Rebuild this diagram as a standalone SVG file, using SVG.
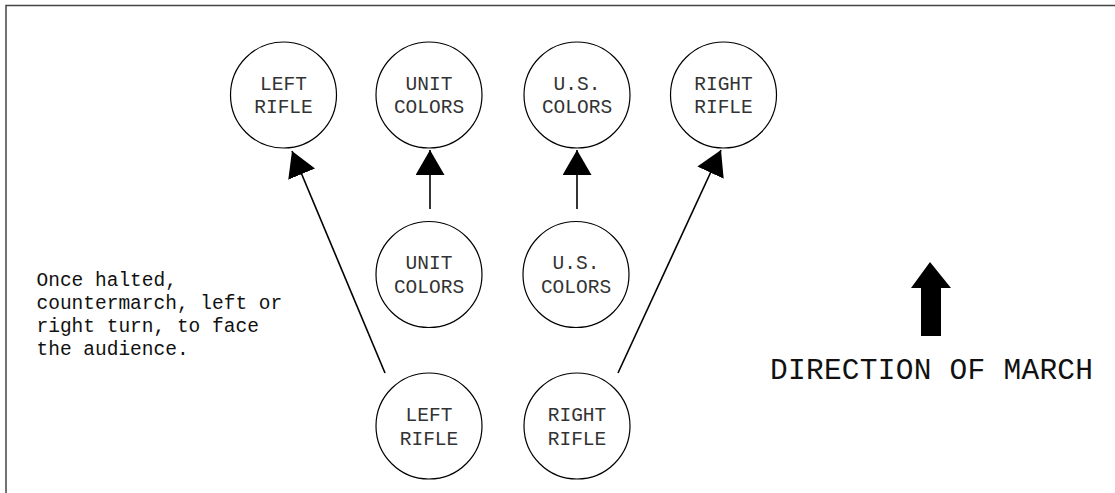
<svg xmlns="http://www.w3.org/2000/svg" width="1115" height="493" viewBox="0 0 1115 493">
<style>
.node circle{fill:#fff;stroke:#000;stroke-width:1.2}
.lbl{font-family:"Liberation Mono","Courier New",monospace;font-size:19.5px;fill:#333;text-anchor:middle}
.note{font-family:"Liberation Mono","Courier New",monospace;font-size:19.5px;fill:#111}
.conn line{stroke:#000;stroke-width:1.6}
</style>
<defs>
<marker id="ah" markerUnits="userSpaceOnUse" markerWidth="26" markerHeight="30" refX="25" refY="14.5" orient="auto" viewBox="0 0 26 30">
<path d="M0,0 L25,14.5 L0,29 Z" fill="#000"/>
</marker>
</defs>
<rect width="1115" height="493" fill="#fff"/>
<path d="M6,493 V5.5 H1115" fill="none" stroke="#444" stroke-width="1.5"/>

<g id="n-left-rifle-top" class="node"><circle cx="283.5" cy="95" r="53"/><text class="lbl" x="283.5" y="90">LEFT</text><text class="lbl" x="283.5" y="113">RIFLE</text></g>
<g id="n-unit-colors-top" class="node"><circle cx="429" cy="95" r="53"/><text class="lbl" x="429" y="90">UNIT</text><text class="lbl" x="429" y="113">COLORS</text></g>
<g id="n-us-colors-top" class="node"><circle cx="577" cy="95" r="53"/><text class="lbl" x="577" y="90">U.S.</text><text class="lbl" x="577" y="113">COLORS</text></g>
<g id="n-right-rifle-top" class="node"><circle cx="723.5" cy="95" r="53"/><text class="lbl" x="723.5" y="90">RIGHT</text><text class="lbl" x="723.5" y="113">RIFLE</text></g>

<g id="n-unit-colors-mid" class="node"><circle cx="429" cy="274.5" r="53"/><text class="lbl" x="429" y="269">UNIT</text><text class="lbl" x="429" y="292.5">COLORS</text></g>
<g id="n-us-colors-mid" class="node"><circle cx="576" cy="274.5" r="53"/><text class="lbl" x="576" y="269">U.S.</text><text class="lbl" x="576" y="292.5">COLORS</text></g>

<g id="n-left-rifle-bot" class="node"><circle cx="429" cy="426" r="53"/><text class="lbl" x="429" y="421">LEFT</text><text class="lbl" x="429" y="444.5">RIFLE</text></g>
<g id="n-right-rifle-bot" class="node"><circle cx="577" cy="426" r="53"/><text class="lbl" x="577" y="421">RIGHT</text><text class="lbl" x="577" y="444.5">RIFLE</text></g>

<g id="connectors" class="conn">
<line x1="385" y1="373" x2="292" y2="151" marker-end="url(#ah)"/>
<line x1="430" y1="209" x2="430" y2="150" marker-end="url(#ah)"/>
<line x1="577" y1="209" x2="577" y2="150" marker-end="url(#ah)"/>
<line x1="618" y1="373" x2="721" y2="150" marker-end="url(#ah)"/>
</g>

<g id="note">
<text class="note" x="36.5" y="286">Once halted,</text>
<text class="note" x="36.5" y="309">countermarch, left or</text>
<text class="note" x="36.5" y="332">right turn, to face</text>
<text class="note" x="36.5" y="355">the audience.</text>
</g>

<g id="direction">
<polygon points="930,262 951,288 941,288 941,336 921,336 921,288 911,288" fill="#000"/>
<text x="770" y="379" font-family="'Liberation Mono','Courier New',monospace" font-size="29.5" fill="#111" textLength="323" lengthAdjust="spacing">DIRECTION OF MARCH</text>
</g>
</svg>
